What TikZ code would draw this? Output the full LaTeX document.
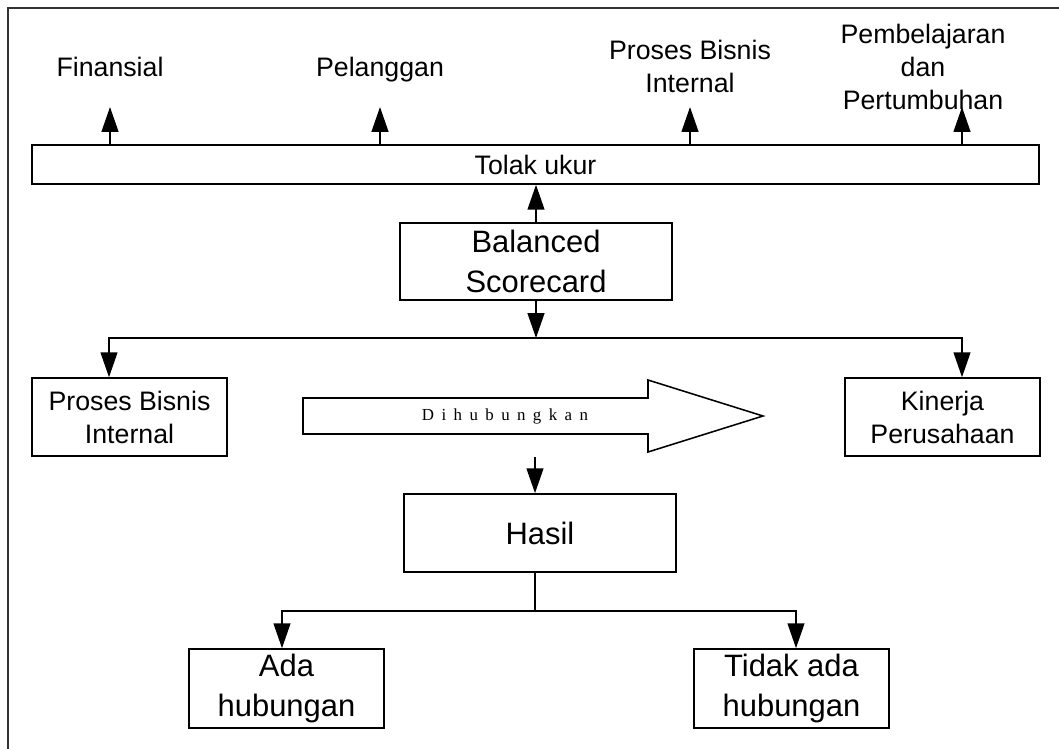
\documentclass[tikz,border=0pt]{standalone}
\usepackage{fontspec}
\setmainfont{Liberation Sans}
\newfontfamily\bigsans{Liberation Sans}
\newfontfamily\linkserif[LetterSpace=44]{Liberation Serif}
\usetikzlibrary{positioning, calc, arrows.meta}

\begin{document}
\begin{tikzpicture}[x=0.025cm, y=-0.025cm, >={Triangle[length=0.62cm, width=0.42cm]},
  box/.style={draw, line width=1.1pt, fill=white, align=center, inner sep=0pt, font=\fontsize{19}{23.5}\selectfont},
  bigbox/.style={box, font=\bigsans\fontsize{22}{28.4}\selectfont},
  toplabel/.style={anchor=south, inner sep=0pt, text depth=0pt, align=center, font=\fontsize{19}{23.5}\selectfont},
  arr/.style={->, line width=1.1pt},
  line/.style={line width=1.1pt}]
\useasboundingbox (0,0) rectangle (1059,749);
\draw[line width=1.2pt, black!80] (1059,8) -- (8,8) -- (8,749);

\node[box, minimum width=25.175cm, minimum height=0.975cm] (bar) at (535.5,164.5) {Tolak ukur};

\node[toplabel] (fin) at (110,77) {Finansial};
\node[toplabel] (pel) at (380,77) {Pelanggan};
\node[toplabel] (pbis) at (690,93) {Proses Bisnis\\Internal};
\node[toplabel] (pemb) at (923,110) {Pembelajaran\\dan\\Pertumbuhan};
\coordinate (tfin) at (110,107);
\coordinate (tpel) at (380,107);
\coordinate (tpbis) at (690,107);
\coordinate (tpemb) at (962,107);

\node[bigbox, minimum width=6.8cm, minimum height=1.925cm] (bsc) at (536,261.5) {Balanced\\Scorecard};
\node[box, minimum width=4.875cm, minimum height=1.95cm] (pbi) at (129.5,417) {Proses Bisnis\\Internal};
\node[box, minimum width=4.875cm, minimum height=1.95cm] (kin) at (942.5,417) {Kinerja\\Perusahaan};
\node[bigbox, minimum width=6.8cm, minimum height=1.95cm] (hasil) at (540,533) {Hasil};
\node[bigbox, minimum width=4.875cm, minimum height=1.975cm] (ada) at (286.5,688.5) {Ada\\hubungan};
\node[bigbox, minimum width=4.875cm, minimum height=1.975cm] (tidak) at (791.5,688.5) {Tidak ada\\hubungan};

\draw[line width=1.1pt, fill=white] (303,398) -- (648,398) -- (648,380) -- (763,416) -- (648,452) -- (648,434) -- (303,434) -- cycle;
\node[font=\linkserif\fontsize{12}{14}\selectfont] (link) at (505,416) {Dihubungkan};

\draw[arr] (bar.north -| tfin) -- (tfin);
\draw[arr] (bar.north -| tpel) -- (tpel);
\draw[arr] (bar.north -| tpbis) -- (tpbis);
\draw[arr] (bar.north -| tpemb) -- (tpemb);
\draw[arr] (bsc.north) -- (bsc.north |- bar.south);

\coordinate (split) at (536,338);
\coordinate (lcorner) at (109,338);
\coordinate (rcorner) at (962,338);
\draw[arr] (bsc.south) -- (split);
\draw[arr] (split) -- (lcorner) -- (lcorner |- pbi.north);
\draw[arr] (split) -- (rcorner) -- (rcorner |- kin.north);

\coordinate (tohasil) at (535,457);
\draw[arr] (tohasil) -- (tohasil |- hasil.north);

\coordinate (hsplit) at (535,611);
\coordinate (hl) at (282,611);
\coordinate (hr) at (796,611);
\draw[line] (hasil.south -| hsplit) -- (hsplit);
\draw[arr] (hsplit) -- (hl) -- (hl |- ada.north);
\draw[arr] (hsplit) -- (hr) -- (hr |- tidak.north);
\end{tikzpicture}
\end{document}
